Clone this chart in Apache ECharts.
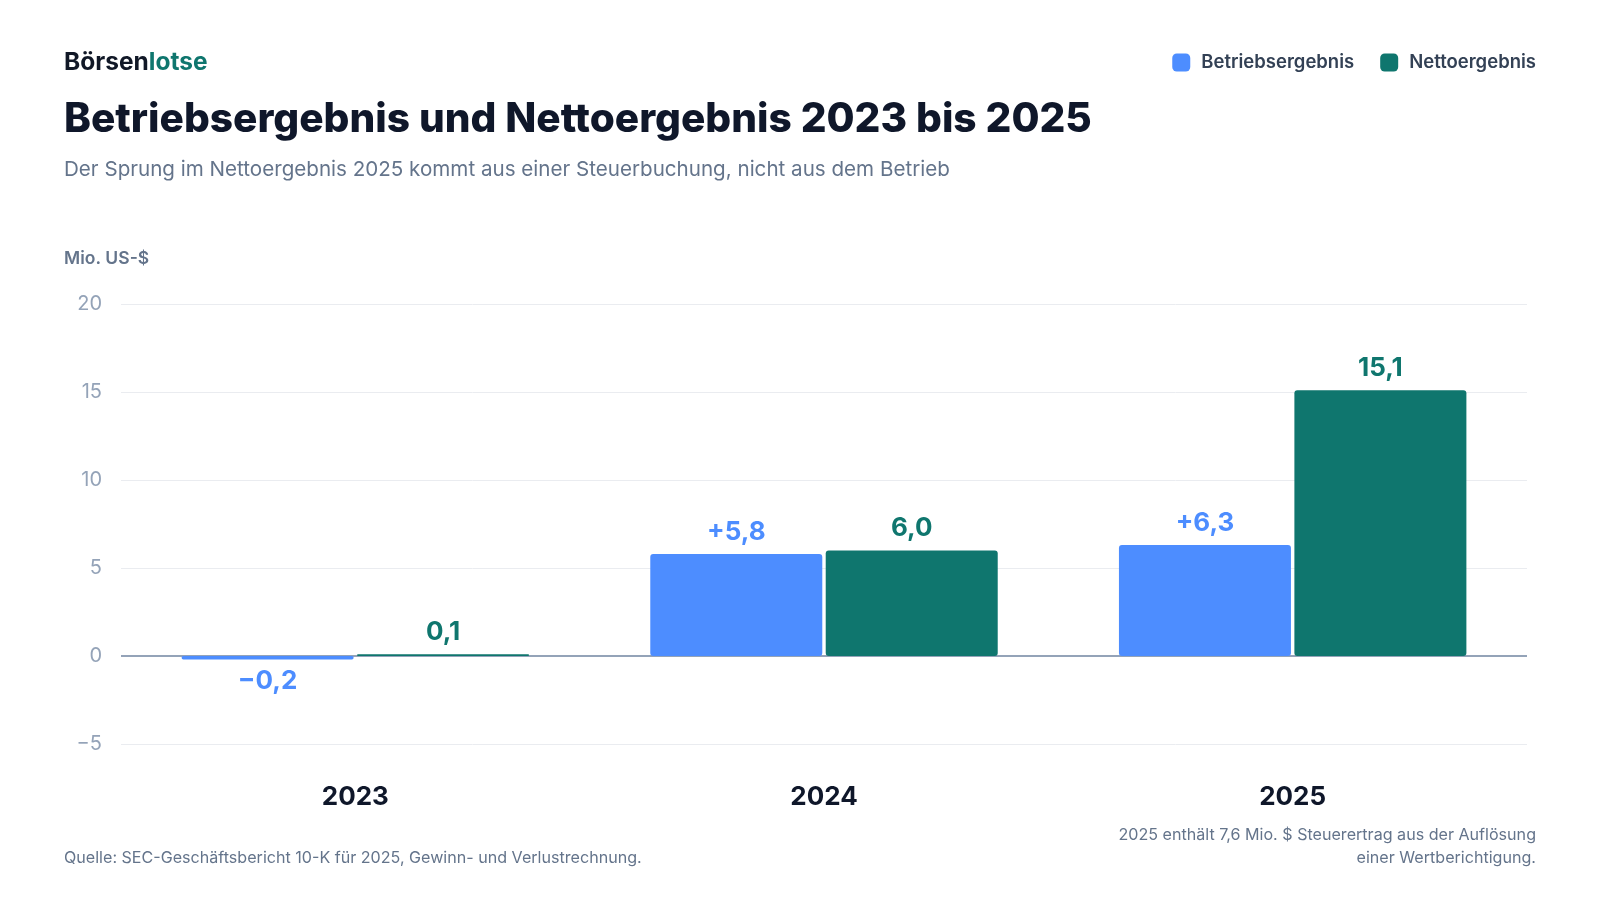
<!DOCTYPE html>
<html>
<head>
<meta charset="utf-8">
<script src="https://cdn.jsdelivr.net/npm/echarts@6/dist/echarts.min.js"></script>
<style>
  html, body { margin: 0; padding: 0; background: #fff; }
  #chart { width: 1600px; height: 900px; }
</style>
</head>
<body>
<div id="chart"></div>
<script>
// Werte in Mio. US-$
const years = ['2023', '2024', '2025'];
const betrieb = [-0.2, 5.8, 6.3];
const netto = [0.1, 6.0, 15.1];
const yTicks = [-5, 0, 5, 10, 15, 20];

const BLUE = '#4d8dff';
const TEAL = '#0f766e';
const FONT = 'Inter';

function fmt(v, sign) {
  let s = Math.abs(v).toFixed(1).replace('.', ',');
  if (v < 0) return '\u2212' + s;
  return sign ? '+' + s : s;
}

function barData(arr, color, sign) {
  return arr.map(function (v) {
    return {
      value: v,
      label: {
        show: true,
        position: v < 0 ? 'bottom' : 'top',
        distance: 9,
        formatter: fmt(v, sign),
        color: color,
        fontFamily: FONT,
        fontWeight: 700,
        fontSize: 26
      }
    };
  });
}

var chart = echarts.init(document.getElementById('chart'), null, { renderer: 'canvas' });

var option = {
  backgroundColor: '#ffffff',
  animation: false,
  textStyle: { fontFamily: FONT },
  legend: {
    right: 59,
    top: 48,
    itemWidth: 18,
    itemHeight: 18,
    itemGap: 26,
    icon: 'roundRect',
    textStyle: { fontFamily: FONT, fontSize: 18.5, fontWeight: 600, color: '#334155', padding: [0, 0, 0, 6] },
    data: ['Betriebsergebnis', 'Nettoergebnis']
  },
  grid: { left: 121, right: 73, top: 304, bottom: 156, containLabel: false },
  xAxis: {
    type: 'category',
    data: years,
    axisLine: { show: false },
    axisTick: { show: false },
    axisLabel: {
      fontFamily: FONT, fontSize: 26, fontWeight: 700, color: '#0f172a', margin: 40
    }
  },
  yAxis: {
    type: 'value',
    min: yTicks[0],
    max: yTicks[yTicks.length - 1],
    interval: 5,
    axisLine: { show: false },
    axisTick: { show: false },
    axisLabel: {
      fontFamily: FONT, fontSize: 20, color: '#94a3b8', margin: 19,
      formatter: function (v) { return v < 0 ? '\u2212' + Math.abs(v) : String(v); }
    },
    splitLine: { lineStyle: { color: '#eaecf0', width: 1 } }
  },
  series: [
    {
      name: 'Betriebsergebnis',
      type: 'bar',
      barWidth: 172,
      barGap: '2%',
      itemStyle: { color: BLUE, borderRadius: 3 },
      data: barData(betrieb, BLUE, true),
      markLine: {
        silent: true,
        symbol: 'none',
        label: { show: false },
        lineStyle: { color: '#94a3b8', width: 2, type: 'solid' },
        data: [{ yAxis: 0 }],
        z: 1
      }
    },
    {
      name: 'Nettoergebnis',
      type: 'bar',
      barWidth: 172,
      itemStyle: { color: TEAL, borderRadius: 3 },
      data: barData(netto, TEAL, false)
    }
  ],
  graphic: [
    {
      type: 'text', left: 64, top: 50,
      style: {
        text: '{a|Börsen}{b|lotse}',
        rich: {
          a: { fontFamily: FONT, fontSize: 24.5, fontWeight: 700, fill: '#111827' },
          b: { fontFamily: FONT, fontSize: 24.5, fontWeight: 700, fill: TEAL }
        }
      }
    },
    {
      type: 'text', left: 64, top: 99,
      style: {
        text: 'Betriebsergebnis und Nettoergebnis 2023 bis 2025',
        fontFamily: FONT, fontSize: 40.6, fontWeight: 800, fill: '#0f172a'
      }
    },
    {
      type: 'text', left: 64, top: 159,
      style: {
        text: 'Der Sprung im Nettoergebnis 2025 kommt aus einer Steuerbuchung, nicht aus dem Betrieb',
        fontFamily: FONT, fontSize: 20.6, fill: '#64748b'
      }
    },
    {
      type: 'text', left: 64, top: 250,
      style: {
        text: 'Mio. US-$',
        fontFamily: FONT, fontSize: 17.5, fontWeight: 600, fill: '#64748b'
      }
    },
    {
      type: 'text', left: 64, top: 850,
      style: {
        text: 'Quelle: SEC-Geschäftsbericht 10-K für 2025, Gewinn- und Verlustrechnung.',
        fontFamily: FONT, fontSize: 16.1, fill: '#64748b'
      }
    },
    {
      type: 'text', x: 1536, y: 823,
      style: {
        text: '2025 enthält 7,6 Mio. $ Steuerertrag aus der Auflösung\neiner Wertberichtigung.',
        align: 'right',
        verticalAlign: 'top',
        lineHeight: 23.5,
        fontFamily: FONT, fontSize: 16.1, fill: '#64748b'
      }
    }
  ]
};

chart.setOption(option);
</script>
</body>
</html>
